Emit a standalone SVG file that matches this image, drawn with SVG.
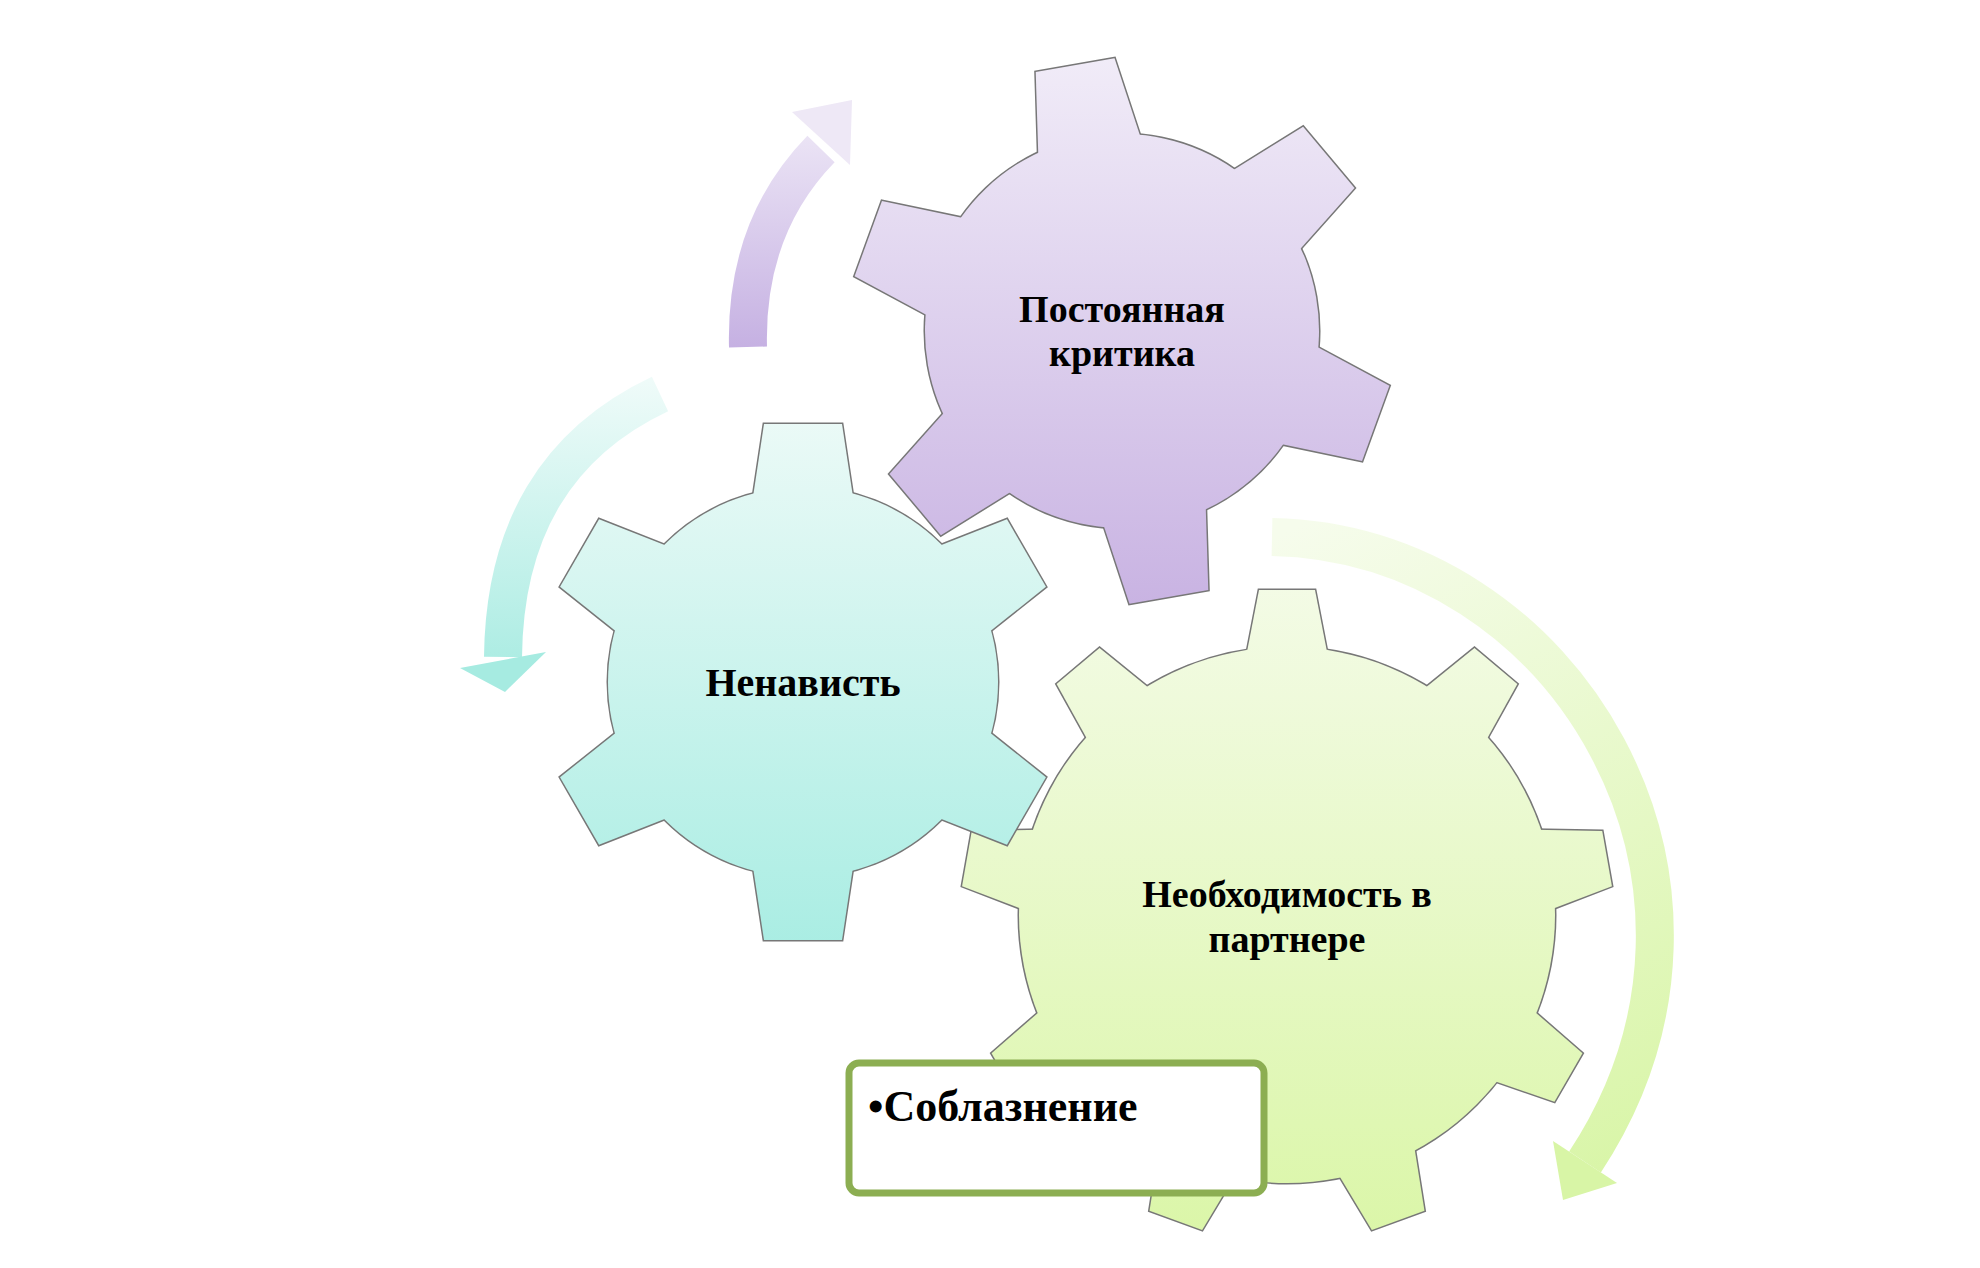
<svg xmlns="http://www.w3.org/2000/svg" width="1980" height="1268" viewBox="0 0 1980 1268">
<style>
.lbl{font-family:"Liberation Serif","DejaVu Serif",serif;font-weight:bold;fill:#000;text-anchor:middle}
.ol{fill:#888;stroke:#777;stroke-width:3}
.wh{fill:#fff}
</style>
<defs>
<linearGradient id="gP" x1="0" y1="0" x2="0" y2="1"><stop offset="0" stop-color="#f1ecf8"/><stop offset="1" stop-color="#c8b2e2"/></linearGradient>
<linearGradient id="gT" x1="0" y1="0" x2="0" y2="1"><stop offset="0" stop-color="#ecfaf7"/><stop offset="1" stop-color="#a9ede3"/></linearGradient>
<linearGradient id="gG" x1="0" y1="0" x2="0" y2="1"><stop offset="0" stop-color="#f4fbe8"/><stop offset="1" stop-color="#daf6a6"/></linearGradient>
<linearGradient id="aP" gradientUnits="userSpaceOnUse" x1="0" y1="350" x2="0" y2="100"><stop offset="0" stop-color="#c5b0e2"/><stop offset="1" stop-color="#f1ecf8"/></linearGradient>
<linearGradient id="aT" gradientUnits="userSpaceOnUse" x1="0" y1="380" x2="0" y2="690"><stop offset="0" stop-color="#effbf9"/><stop offset="1" stop-color="#a6ebe1"/></linearGradient>
<linearGradient id="aG" gradientUnits="userSpaceOnUse" x1="1270" y1="540" x2="1600" y2="1200"><stop offset="0" stop-color="#f6fcec"/><stop offset="1" stop-color="#d8f5a6"/></linearGradient>
<g id="s1"><circle cx="0" cy="0" r="195"/><g id="t1"><polygon points="-50,-185 -39,-258 39,-258 50,-185"/></g>
<use href="#t1" transform="rotate(60)"/><use href="#t1" transform="rotate(120)"/><use href="#t1" transform="rotate(180)"/><use href="#t1" transform="rotate(240)"/><use href="#t1" transform="rotate(300)"/></g>
<g id="s2"><circle cx="0" cy="0" r="197"/><g id="t2"><polygon points="-52,-187 -40,-270 40,-270 52,-187"/></g>
<use href="#t2" transform="rotate(60)"/><use href="#t2" transform="rotate(120)"/><use href="#t2" transform="rotate(180)"/><use href="#t2" transform="rotate(240)"/><use href="#t2" transform="rotate(300)"/></g>
<g id="s3"><circle cx="0" cy="0" r="268"/><g id="t3"><polygon points="-41,-258 -28,-325 28,-325 41,-258"/></g>
<use href="#t3" transform="rotate(40)"/><use href="#t3" transform="rotate(80)"/><use href="#t3" transform="rotate(120)"/><use href="#t3" transform="rotate(160)"/><use href="#t3" transform="rotate(200)"/><use href="#t3" transform="rotate(240)"/><use href="#t3" transform="rotate(280)"/><use href="#t3" transform="rotate(320)"/></g>
<mask id="m1" maskUnits="userSpaceOnUse" x="0" y="0" width="1980" height="1268"><use href="#s1" class="wh" transform="translate(803,682)"/></mask>
<mask id="m2" maskUnits="userSpaceOnUse" x="0" y="0" width="1980" height="1268"><use href="#s2" class="wh" transform="translate(1122,331) rotate(-10)"/></mask>
<mask id="m3" maskUnits="userSpaceOnUse" x="0" y="0" width="1980" height="1268"><use href="#s3" class="wh" transform="translate(1287,915)"/></mask>
</defs>
<rect width="1980" height="1268" fill="#fff"/>
<g id="connectors">
<path d="M748 347 Q745 227 821 149" fill="none" stroke="url(#aP)" stroke-width="38"/>
<polygon points="792,112 852,100 850,165" fill="#eee8f6"/>
<path d="M660 394 Q505 467 503 657" fill="none" stroke="url(#aT)" stroke-width="38"/>
<polygon points="460,668 546,652 505,692" fill="#a6ebe1"/>
<path d="M1272 537 C1566 543 1768 884 1585 1162" fill="none" stroke="url(#aG)" stroke-width="38"/>
<polygon points="1617,1183 1553,1141 1563,1200" fill="#d8f5a6"/>
</g>
<g id="gear-need">
<use href="#s3" class="ol" transform="translate(1287,915)"/>
<rect x="900" y="560" width="780" height="700" fill="url(#gG)" mask="url(#m3)"/>
<text class="lbl" x="1287" y="907" font-size="38">Необходимость в</text>
<text class="lbl" x="1287" y="952" font-size="38">партнере</text>
</g>
<g id="gear-hate">
<use href="#s1" class="ol" transform="translate(803,682)"/>
<rect x="530" y="410" width="550" height="540" fill="url(#gT)" mask="url(#m1)"/>
<text class="lbl" x="803" y="696" font-size="40">Ненависть</text>
</g>
<g id="gear-critic">
<use href="#s2" class="ol" transform="translate(1122,331) rotate(-10)"/>
<rect x="840" y="55" width="570" height="560" fill="url(#gP)" mask="url(#m2)"/>
<text class="lbl" x="1122" y="322" font-size="38">Постоянная</text>
<text class="lbl" x="1122" y="366" font-size="38">критика</text>
</g>
<g id="box-seduction">
<rect x="849" y="1063" width="415" height="130" rx="10" fill="#fff" stroke="#8cae52" stroke-width="7"/>
<text class="lbl" x="868" y="1121" font-size="44" style="text-anchor:start">•Соблазнение</text>
</g>
</svg>
